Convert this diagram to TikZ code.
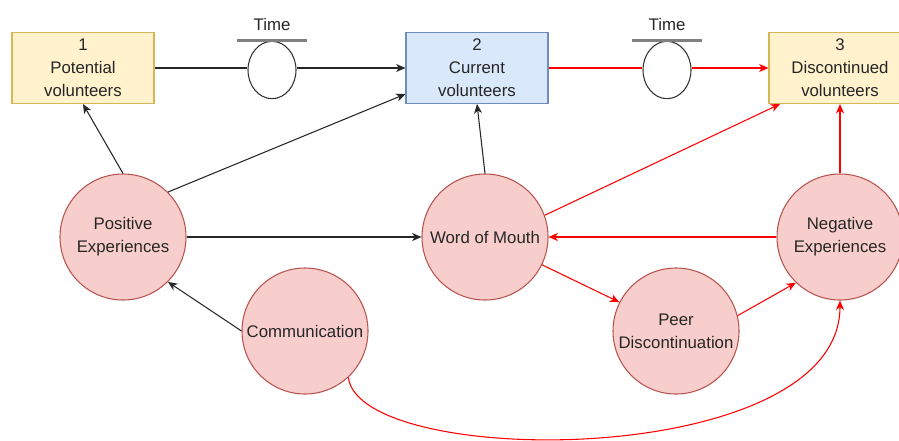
\documentclass[tikz,border=0pt]{standalone}
\usepackage{fontspec}
\setmainfont{Liberation Sans}
\usepackage{xcolor}
\usepackage{tikz}
\usetikzlibrary{arrows.meta,shapes.geometric}
\definecolor{ylwfill}{HTML}{FFF2CC}
\definecolor{ylwline}{HTML}{D6B656}
\definecolor{bluefill}{HTML}{DAE8FC}
\definecolor{blueline}{HTML}{6C8EBF}
\definecolor{redfill}{HTML}{F8CECC}
\definecolor{redline}{HTML}{B85450}
\definecolor{flowred}{HTML}{FF0000}
\definecolor{bargray}{HTML}{808080}
\tikzset{
  lbl/.style={font=\fontsize{12.6}{17.4}\selectfont, align=center, text=black!85},
  stock/.style={lbl, rectangle, draw=ylwline, fill=ylwfill, line width=0.8pt,
    minimum width=106.5pt, minimum height=53.25pt, inner sep=0pt},
  curstock/.style={stock, draw=blueline, fill=bluefill},
  factor/.style={lbl, circle, draw=redline, fill=redfill, line width=0.8pt,
    minimum size=94.5pt, inner sep=0pt},
  valve/.style={ellipse, draw=black!80, fill=white, line width=0.8pt,
    minimum width=36pt, minimum height=43pt, inner sep=0pt},
  bar/.style={draw=bargray, line width=2pt},
  bline/.style={draw=black!85, line width=0.8pt},
  rline/.style={draw=flowred, line width=0.8pt},
  barr/.style={bline, -{Stealth[length=7pt,width=6pt,inset=2pt]}},
  rarr/.style={rline, -{Stealth[length=7pt,width=6pt,inset=2pt]}}
}

\begin{document}
\begin{tikzpicture}[x=0.75pt, y=-0.75pt]
  \useasboundingbox (0,0) rectangle (899,440);

  % stocks and valves
  \node[stock] (potential) at (83,68) {1\\Potential\\volunteers};
  \node[curstock] (current) at (477,68) {2\\Current\\volunteers};
  \node[stock] (discont) at (840,68) {3\\Discontinued\\volunteers};
  \node[valve] (v1) at (272,70) {};
  \node[valve] (v2) at (667,70) {};
  \node[lbl] (t1) at (272,24) {Time};
  \node[lbl] (t2) at (667,24) {Time};
  \draw[bar] ([xshift=-26.5pt]v1.north) -- ([xshift=26.5pt]v1.north);
  \draw[bar] ([xshift=-26.5pt]v2.north) -- ([xshift=26.5pt]v2.north);

  % factors
  \node[factor] (posexp) at (123,237) {Positive\\Experiences};
  \node[factor] (wom) at (485,237) {Word of Mouth};
  \node[factor] (negexp) at (840,237) {Negative\\Experiences};
  \node[factor] (comm) at (305,331) {Communication};
  \node[factor] (peer) at (676,331) {Peer\\Discontinuation};

  % flows
  \draw[bline] (potential.east) -- (potential.east -| v1.west);
  \draw[barr] (potential.east -| v1.east) -- (current.west);
  \draw[rline] (current.east) -- (current.east -| v2.west);
  \draw[rarr] (current.east -| v2.east) -- (discont.west);

  % links
  \draw[barr] (posexp.north) -- (potential.south);
  \draw[barr] (posexp.45) -- (current.200);
  \draw[barr] (posexp.east) -- (wom.west);
  \draw[barr] (comm.west) -- (posexp.-45);
  \draw[barr] (wom.north) -- (current.south);
  \draw[rarr] (wom.20) -- (discont.211);
  \draw[rarr] (negexp.west) -- (wom.east);
  \draw[rarr] (wom.-26) -- (peer.153);
  \draw[rarr] (peer.14) -- (negexp.226);
  \draw[rarr] (negexp.north) -- (discont.south);
  \draw[rarr] (comm.-47) .. controls (360,470) and (840,470) .. (negexp.south);
\end{tikzpicture}
\end{document}
